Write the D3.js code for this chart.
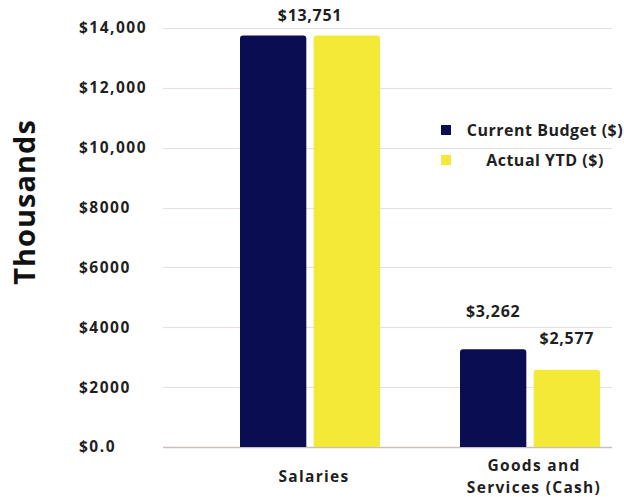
<!DOCTYPE html>
<html>
<head>
<meta charset="utf-8">
<script src="https://cdn.jsdelivr.net/npm/d3@7"></script>
<style>
  html, body { margin: 0; padding: 0; background: #ffffff; }
  svg { display: block; }
  text { font-family: "Open Sans", "Noto Sans", sans-serif; }
</style>
</head>
<body>
<svg id="chart" width="624" height="497"></svg>
<script>
// Budget vs actual, in thousands of dollars
const categories = ["Salaries", "Goods and\nServices (Cash)"];
const seriesNames = ["Current Budget ($)", "Actual YTD ($)"];
const currentBudget = [13751, 3262];
const actualYTD = [13751, 2577];
const yTicks = [0, 2000, 4000, 6000, 8000, 10000, 12000, 14000];
const yTickLabels = ["$0.0", "$2000", "$4000", "$6000", "$8000", "$10,000", "$12,000", "$14,000"];
// value labels: category index, series index (null = whole group), text, lift above bar
const valueLabels = [
  { cat: 0, series: null, value: 13751, text: "$13,751", lift: 20 },
  { cat: 1, series: 0, value: 3262, text: "$3,262", lift: 38 },
  { cat: 1, series: 1, value: 2577, text: "$2,577", lift: 31 }
];

const colors = ["#0b0d52", "#f3e936"];
const svg = d3.select("#chart");

const y = d3.scaleLinear().domain([0, 14000]).range([447, 28]);
const x0 = d3.scaleBand().domain(d3.range(categories.length)).range([200, 640]).paddingInner(0).paddingOuter(0);
const x1 = d3.scaleBand().domain([0, 1]).range([0, 140]).paddingInner(0.1);

const series = [currentBudget, actualYTD];

// gridlines
svg.append("g")
  .selectAll("line")
  .data(yTicks)
  .join("line")
  .attr("x1", 163)
  .attr("x2", 612)
  .attr("y1", d => Math.round(y(d)) + 0.5)
  .attr("y2", d => Math.round(y(d)) + 0.5)
  .attr("stroke", d => d === 0 ? "#c9c0bc" : "#e6dfdb")
  .attr("stroke-width", d => d === 0 ? 1.5 : 1.2);

// y tick labels
svg.append("g")
  .selectAll("text")
  .data(yTicks)
  .join("text")
  .attr("x", 79)
  .attr("y", d => y(d))
  .attr("dy", "0.35em")
  .attr("font-size", 15.5)
  .attr("font-weight", 700)
  .attr("letter-spacing", 1.5)
  .attr("fill", "#1f1f1f")
  .text((d, i) => yTickLabels[i]);

// bars with slightly rounded tops
function barPath(x, yTop, w, yBase, r) {
  return `M${x},${yBase}V${yTop + r}Q${x},${yTop} ${x + r},${yTop}H${x + w - r}Q${x + w},${yTop} ${x + w},${yTop + r}V${yBase}Z`;
}
const groupX = i => x0(i) + (x0.bandwidth() - x1.range()[1]) / 2;

categories.forEach((c, ci) => {
  series.forEach((s, si) => {
    const bx = groupX(ci) + x1(si);
    svg.append("path")
      .attr("d", barPath(bx, y(s[ci]), x1.bandwidth(), y(0), 3))
      .attr("fill", colors[si]);
  });
});

// value labels
valueLabels.forEach(l => {
  const cx = l.series === null
    ? groupX(l.cat) + x1.range()[1] / 2
    : groupX(l.cat) + x1(l.series) + x1.bandwidth() / 2;
  svg.append("text")
    .attr("x", cx)
    .attr("y", y(l.value) - l.lift)
    .attr("dy", "0.35em")
    .attr("text-anchor", "middle")
    .attr("font-size", 16)
    .attr("font-weight", 700)
    .attr("letter-spacing", 0.7)
    .attr("fill", "#1f1f1f")
    .text(l.text);
});

// category labels
categories.forEach((c, ci) => {
  const lines = c.split("\n");
  const cx = groupX(ci) + x1.range()[1] / 2 + 4;
  const t = svg.append("text")
    .attr("text-anchor", "middle")
    .attr("font-size", 15.5)
    .attr("font-weight", 700)
    .attr("letter-spacing", 1.3)
    .attr("fill", "#1f1f1f");
  const startY = lines.length === 1 ? 477 : 466;
  lines.forEach((ln, li) => {
    t.append("tspan").attr("x", cx).attr("y", startY + li * 22).attr("dy", "0.35em").text(ln);
  });
});

// y axis title
svg.append("text")
  .attr("transform", "translate(25,202) rotate(-90)")
  .attr("text-anchor", "middle")
  .attr("dy", "0.35em")
  .attr("font-size", 29)
  .attr("font-weight", 700)
  .attr("letter-spacing", 1)
  .attr("fill", "#111")
  .text("Thousands");

// legend
const legend = svg.append("g");
seriesNames.forEach((n, i) => {
  const ly = 130 + i * 30;
  legend.append("rect")
    .attr("x", 441).attr("y", ly - 5).attr("width", 10).attr("height", 10)
    .attr("fill", colors[i]);
  legend.append("text")
    .attr("x", 545).attr("y", ly)
    .attr("dy", "0.35em")
    .attr("text-anchor", "middle")
    .attr("font-size", 16)
    .attr("font-weight", 700)
    .attr("letter-spacing", 0.5)
    .attr("fill", "#1f1f1f")
    .text(n);
});
</script>
</body>
</html>
